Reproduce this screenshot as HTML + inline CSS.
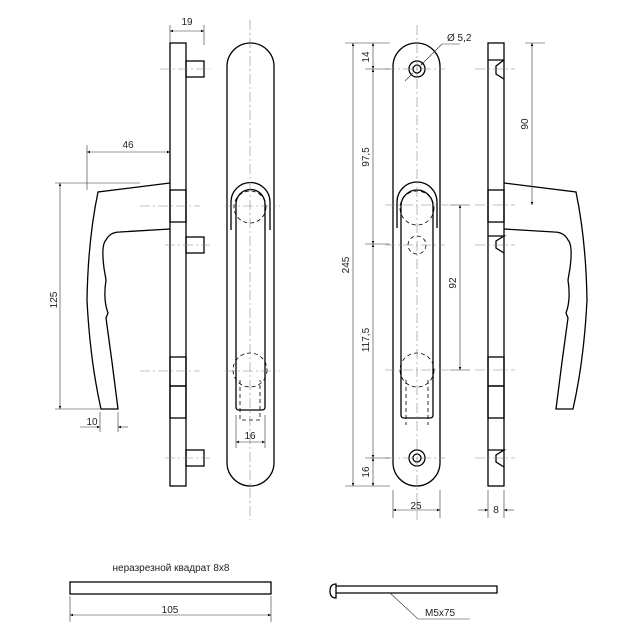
<!DOCTYPE html>
<html><head><meta charset="utf-8"><style>html,body{margin:0;padding:0;background:#fff}svg{display:block}</style></head>
<body>
<svg width="640" height="640" viewBox="0 0 640 640" xmlns="http://www.w3.org/2000/svg" font-family="Liberation Sans, sans-serif" font-size="10" fill="none" stroke="#000">
<defs>
<marker id="a" viewBox="0 0 10 10" refX="10" refY="5" markerWidth="7" markerHeight="5" orient="auto-start-reverse"><path d="M0,1L10,5L0,9z" fill="#000" stroke="none"/></marker>
</defs>
<g stroke-width="1.3">
<rect x="170" y="43" width="16" height="443"/>
<rect x="186" y="61" width="18" height="16"/>
<rect x="186" y="237" width="18" height="16"/>
<rect x="186" y="450" width="18" height="16"/>
<rect x="170" y="190" width="16" height="32"/>
<rect x="170" y="357" width="16" height="29"/>
<rect x="170" y="386" width="16" height="32"/>
<path d="M170,183 L98,192 Q88,240 87,300 Q90,360 101,409 L118,409 L112,362 L106,318 L108,313 Q103,300 106,280 L104,268 Q101,245 106,240 Q110,232 120,232 L170,229"/>
<rect x="227" y="43" width="47" height="443" rx="23.5"/>
<path d="M231,230 L231,202 A19,19 0 0 1 270,202 L270,230"/>
<path d="M236,407 L236,204 A14.5,14.5 0 0 1 265,204 L265,407 Q265,410 262,410 L239,410 Q236,410 236,407"/>
<rect x="393" y="43" width="47" height="443" rx="23.5"/>
<circle cx="417" cy="69" r="8"/><circle cx="417" cy="69" r="4"/>
<circle cx="417" cy="458" r="8"/><circle cx="417" cy="458" r="4"/>
<path d="M397,228 L397,202 A20,20 0 0 1 437,202 L437,228"/>
<path d="M401,415 L401,206 A16,16 0 0 1 433,206 L433,415 Q433,418 430,418 L404,418 Q401,418 401,415"/>
<rect x="488" y="43" width="16" height="443"/>
<rect x="488" y="190" width="16" height="32"/>
<rect x="488" y="357" width="16" height="29"/>
<rect x="488" y="386" width="16" height="32"/>
<path d="M488,60 L504,60 M504,60 L496,66 L496,74 L504,79 M488,236 L504,236 L496,241 L496,248 L504,253 M488,450 L504,450 L496,455 L496,462 L504,467"/>
<path d="M504,183 L576,192 Q586,240 587,300 Q584,360 573,409 L556,409 L562,362 L568,318 L566,313 Q571,300 568,280 L570,268 Q573,245 568,240 Q564,232 554,232 L504,229"/>
<rect x="70" y="582" width="201" height="12"/>
<path d="M336,586 L497,586 L497,593 L336,593 M336,584 Q330,584 330,591 Q330,598 336,598 Z"/>
</g>
<g stroke-width="0.8" stroke-dasharray="4,3">
<circle cx="250" cy="207" r="16"/><circle cx="250" cy="370" r="17"/>
<path d="M240,380 L240,420 L260,420 L260,380"/>
<circle cx="417" cy="208" r="17"/><circle cx="417" cy="245" r="9"/><circle cx="417" cy="370" r="17"/>
<path d="M406,380 L406,425 M428,380 L428,425"/>
</g>
<g stroke="#888" stroke-width="0.6" stroke-dasharray="10,3,2,3">
<path d="M250,20 L250,520 M417,25 L417,520"/>
<path d="M160,69 L210,69 M140,206 L200,206 M165,245 L210,245 M140,371 L200,371 M165,458 L210,458"/>
<path d="M225,206 L280,206 M225,371 L280,371 M385,69 L445,69 M385,205 L450,205 M385,245 L445,245 M385,370 L450,370 M385,458 L445,458"/>
<path d="M475,69 L515,69 M475,205 L515,205 M475,245 L515,245 M475,370 L515,370 M475,458 L515,458"/>
</g>
<g stroke-width="0.6" stroke="#333">
<path d="M170,25 L170,43 M204,25 L204,45 M87,145 L87,190 M55,183 L140,183 M55,409 L100,409 M100,412 L100,432 M118,412 L118,432 M236,415 L236,448 M265,415 L265,448"/>
<path d="M345,43 L390,43 M345,486 L390,486 M365,69 L390,69 M365,244 L390,244 M365,458 L390,458 M450,205 L470,205 M450,370 L470,370 M525,43 L545,43 M393,490 L393,518 M440,490 L440,518 M488,490 L488,518 M504,490 L504,518 M70,596 L70,622 M271,596 L271,622"/>
<line x1="170" y1="31" x2="204" y2="31" marker-start="url(#a)" marker-end="url(#a)"/>
<line x1="87" y1="152" x2="170" y2="152" marker-start="url(#a)" marker-end="url(#a)"/>
<line x1="60" y1="183" x2="60" y2="409" marker-start="url(#a)" marker-end="url(#a)"/>
<line x1="80" y1="427" x2="100" y2="427" marker-end="url(#a)"/><line x1="128" y1="427" x2="118" y2="427" marker-end="url(#a)"/>
<line x1="236" y1="442" x2="265" y2="442" marker-start="url(#a)" marker-end="url(#a)"/>
<line x1="353" y1="43" x2="353" y2="486" marker-start="url(#a)" marker-end="url(#a)"/>
<line x1="373" y1="43" x2="373" y2="69" marker-start="url(#a)" marker-end="url(#a)"/>
<line x1="373" y1="69" x2="373" y2="244" marker-start="url(#a)" marker-end="url(#a)"/>
<line x1="373" y1="244" x2="373" y2="458" marker-start="url(#a)" marker-end="url(#a)"/>
<line x1="373" y1="458" x2="373" y2="486" marker-start="url(#a)" marker-end="url(#a)"/>
<line x1="460" y1="205" x2="460" y2="370" marker-start="url(#a)" marker-end="url(#a)"/>
<line x1="532" y1="43" x2="532" y2="205" marker-start="url(#a)" marker-end="url(#a)"/>
<line x1="393" y1="510" x2="440" y2="510" marker-start="url(#a)" marker-end="url(#a)"/>
<line x1="478" y1="510" x2="488" y2="510" marker-end="url(#a)"/><line x1="514" y1="510" x2="504" y2="510" marker-end="url(#a)"/>
<line x1="70" y1="615" x2="271" y2="615" marker-start="url(#a)" marker-end="url(#a)"/>
<path d="M442,44 L460,44"/>
<line x1="442" y1="44" x2="421" y2="65" marker-end="url(#a)"/>
<line x1="405" y1="81" x2="413" y2="73"/>
<path d="M390,593 L418,619 L470,619"/>
</g>
<g fill="#222" stroke="none" font-size="10">
<text x="187" y="25" text-anchor="middle">19</text>
<text x="128" y="148" text-anchor="middle">46</text>
<text x="57" y="300" text-anchor="middle" transform="rotate(-90 57 300)">125</text>
<text x="92" y="425" text-anchor="middle">10</text>
<text x="250" y="439" text-anchor="middle">16</text>
<text x="349" y="265" text-anchor="middle" transform="rotate(-90 349 265)">245</text>
<text x="369" y="57" text-anchor="middle" transform="rotate(-90 369 57)">14</text>
<text x="369" y="157" text-anchor="middle" transform="rotate(-90 369 157)">97,5</text>
<text x="369" y="340" text-anchor="middle" transform="rotate(-90 369 340)">117,5</text>
<text x="369" y="472" text-anchor="middle" transform="rotate(-90 369 472)">16</text>
<text x="456" y="283" text-anchor="middle" transform="rotate(-90 456 283)">92</text>
<text x="528" y="124" text-anchor="middle" transform="rotate(-90 528 124)">90</text>
<text x="416" y="509" text-anchor="middle">25</text>
<text x="496" y="513" text-anchor="middle">8</text>
<text x="447" y="41">Ø 5,2</text>
<text x="171" y="571" text-anchor="middle">неразрезной квадрат 8x8</text>
<text x="170" y="613" text-anchor="middle">105</text>
<text x="425" y="616">M5x75</text>
</g>
</svg>
</body></html>
